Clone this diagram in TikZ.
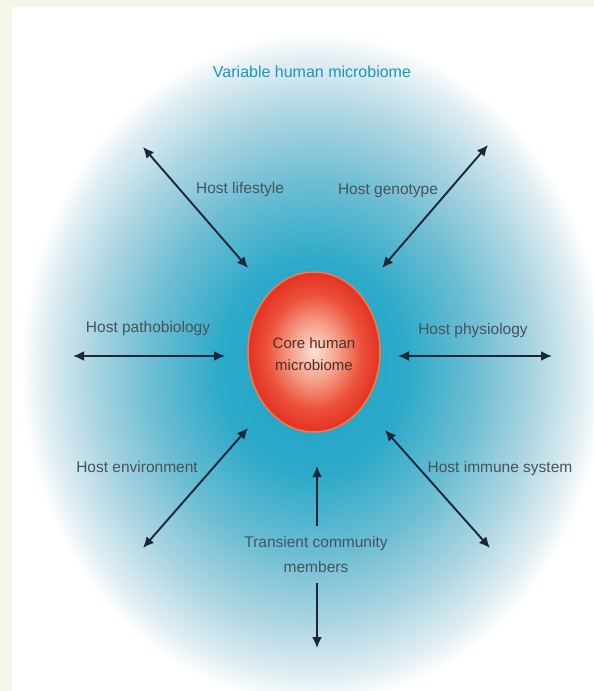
\documentclass[tikz,border=0pt]{standalone}
\usepackage{fontspec}
\setmainfont{Liberation Sans}
\usetikzlibrary{arrows.meta}
\definecolor{creamc}{RGB}{246,246,232}
\definecolor{labelc}{RGB}{72,82,92}
\definecolor{titlec}{RGB}{28,150,180}
\definecolor{arrowc}{RGB}{28,40,58}
\definecolor{corec}{RGB}{80,45,40}
\definecolor{b0}{RGB}{30,162,197}
\definecolor{b1}{RGB}{45,170,201}
\definecolor{b2}{RGB}{110,190,211}
\definecolor{b3}{RGB}{172,213,226}
\definecolor{b4}{RGB}{224,238,243}
\definecolor{r0}{RGB}{250,225,212}
\definecolor{r1}{RGB}{245,160,138}
\definecolor{r2}{RGB}{236,80,58}
\definecolor{r3}{RGB}{228,50,36}
\definecolor{rimc}{RGB}{240,125,75}
\pgfdeclareradialshading{bluebg}{\pgfpoint{0bp}{0bp}}{color(0bp)=(b0); color(8bp)=(b1); color(14bp)=(b2); color(19bp)=(b3); color(23bp)=(b4); color(25bp)=(white); color(50bp)=(white)}
\pgfdeclareradialshading{redcore}{\pgfpoint{0bp}{0bp}}{color(0bp)=(r0); color(9bp)=(r1); color(18bp)=(r2); color(25bp)=(r3); color(50bp)=(r3)}
\tikzset{
  lbl/.style={text=labelc, font=\fontsize{15.5}{23}\selectfont, inner sep=0pt, align=center},
  twoway/.style={draw=arrowc, line width=1.9pt, {Latex[length=11pt,width=10pt]}-{Latex[length=11pt,width=10pt]}},
  oneway/.style={draw=arrowc, line width=1.9pt, -{Latex[length=11pt,width=10pt]}}
}
\begin{document}
\begin{tikzpicture}[x=1pt,y=-1pt]
\useasboundingbox (0,0) rectangle (594,691);
% page background
\fill[creamc] (0,0) rectangle (594,691);
\fill[white] (12,7) rectangle (594,691);
% variable microbiome glow
\shade[shading=bluebg] (313,368) ellipse [x radius=292pt, y radius=335pt];
% core
\shade[shading=redcore] (314,352) ellipse [x radius=66pt, y radius=80pt];
\draw[rimc, line width=1.5pt] (314,352) ellipse [x radius=66pt, y radius=80pt];
\node[lbl, text=corec, font=\fontsize{15}{22}\selectfont] (core) at (314,354) {Core human\\microbiome};
% title
\node[lbl, text=titlec, font=\fontsize{16}{20}\selectfont] (title) at (312,72) {Variable human microbiome};
% labels
\node[lbl] (lifestyle) at (240,189) {Host lifestyle};
\node[lbl] (genotype) at (388,191) {Host genotype};
\node[lbl] (patho) at (148,328) {Host pathobiology};
\node[lbl] (physio) at (473,330) {Host physiology};
\node[lbl] (environ) at (137,467) {Host environment};
\node[lbl] (immune) at (500,468) {Host immune system};
\node[lbl, font=\fontsize{15.5}{25}\selectfont] (transient) at (316,554) {Transient community\\members};
% arrow ends
\coordinate (tlA) at (143,147); \coordinate (tlB) at (248,268);
\coordinate (trA) at (488,145); \coordinate (trB) at (382,268);
\coordinate (lA) at (73,356);   \coordinate (lB) at (225,356);
\coordinate (rA) at (398,356);  \coordinate (rB) at (552,356);
\coordinate (blA) at (143,548); \coordinate (blB) at (248,428);
\coordinate (brA) at (490,548); \coordinate (brB) at (385,430);
\coordinate (upA) at (317,526); \coordinate (upB) at (317,466);
\coordinate (dnA) at (317,583); \coordinate (dnB) at (317,648);
% arrows
\draw[twoway] (tlA) -- (tlB);
\draw[twoway] (trA) -- (trB);
\draw[twoway] (lA) -- (lB);
\draw[twoway] (rA) -- (rB);
\draw[twoway] (blA) -- (blB);
\draw[twoway] (brA) -- (brB);
\draw[oneway] (upA) -- (upB);
\draw[oneway] (dnA) -- (dnB);
\end{tikzpicture}
\end{document}
